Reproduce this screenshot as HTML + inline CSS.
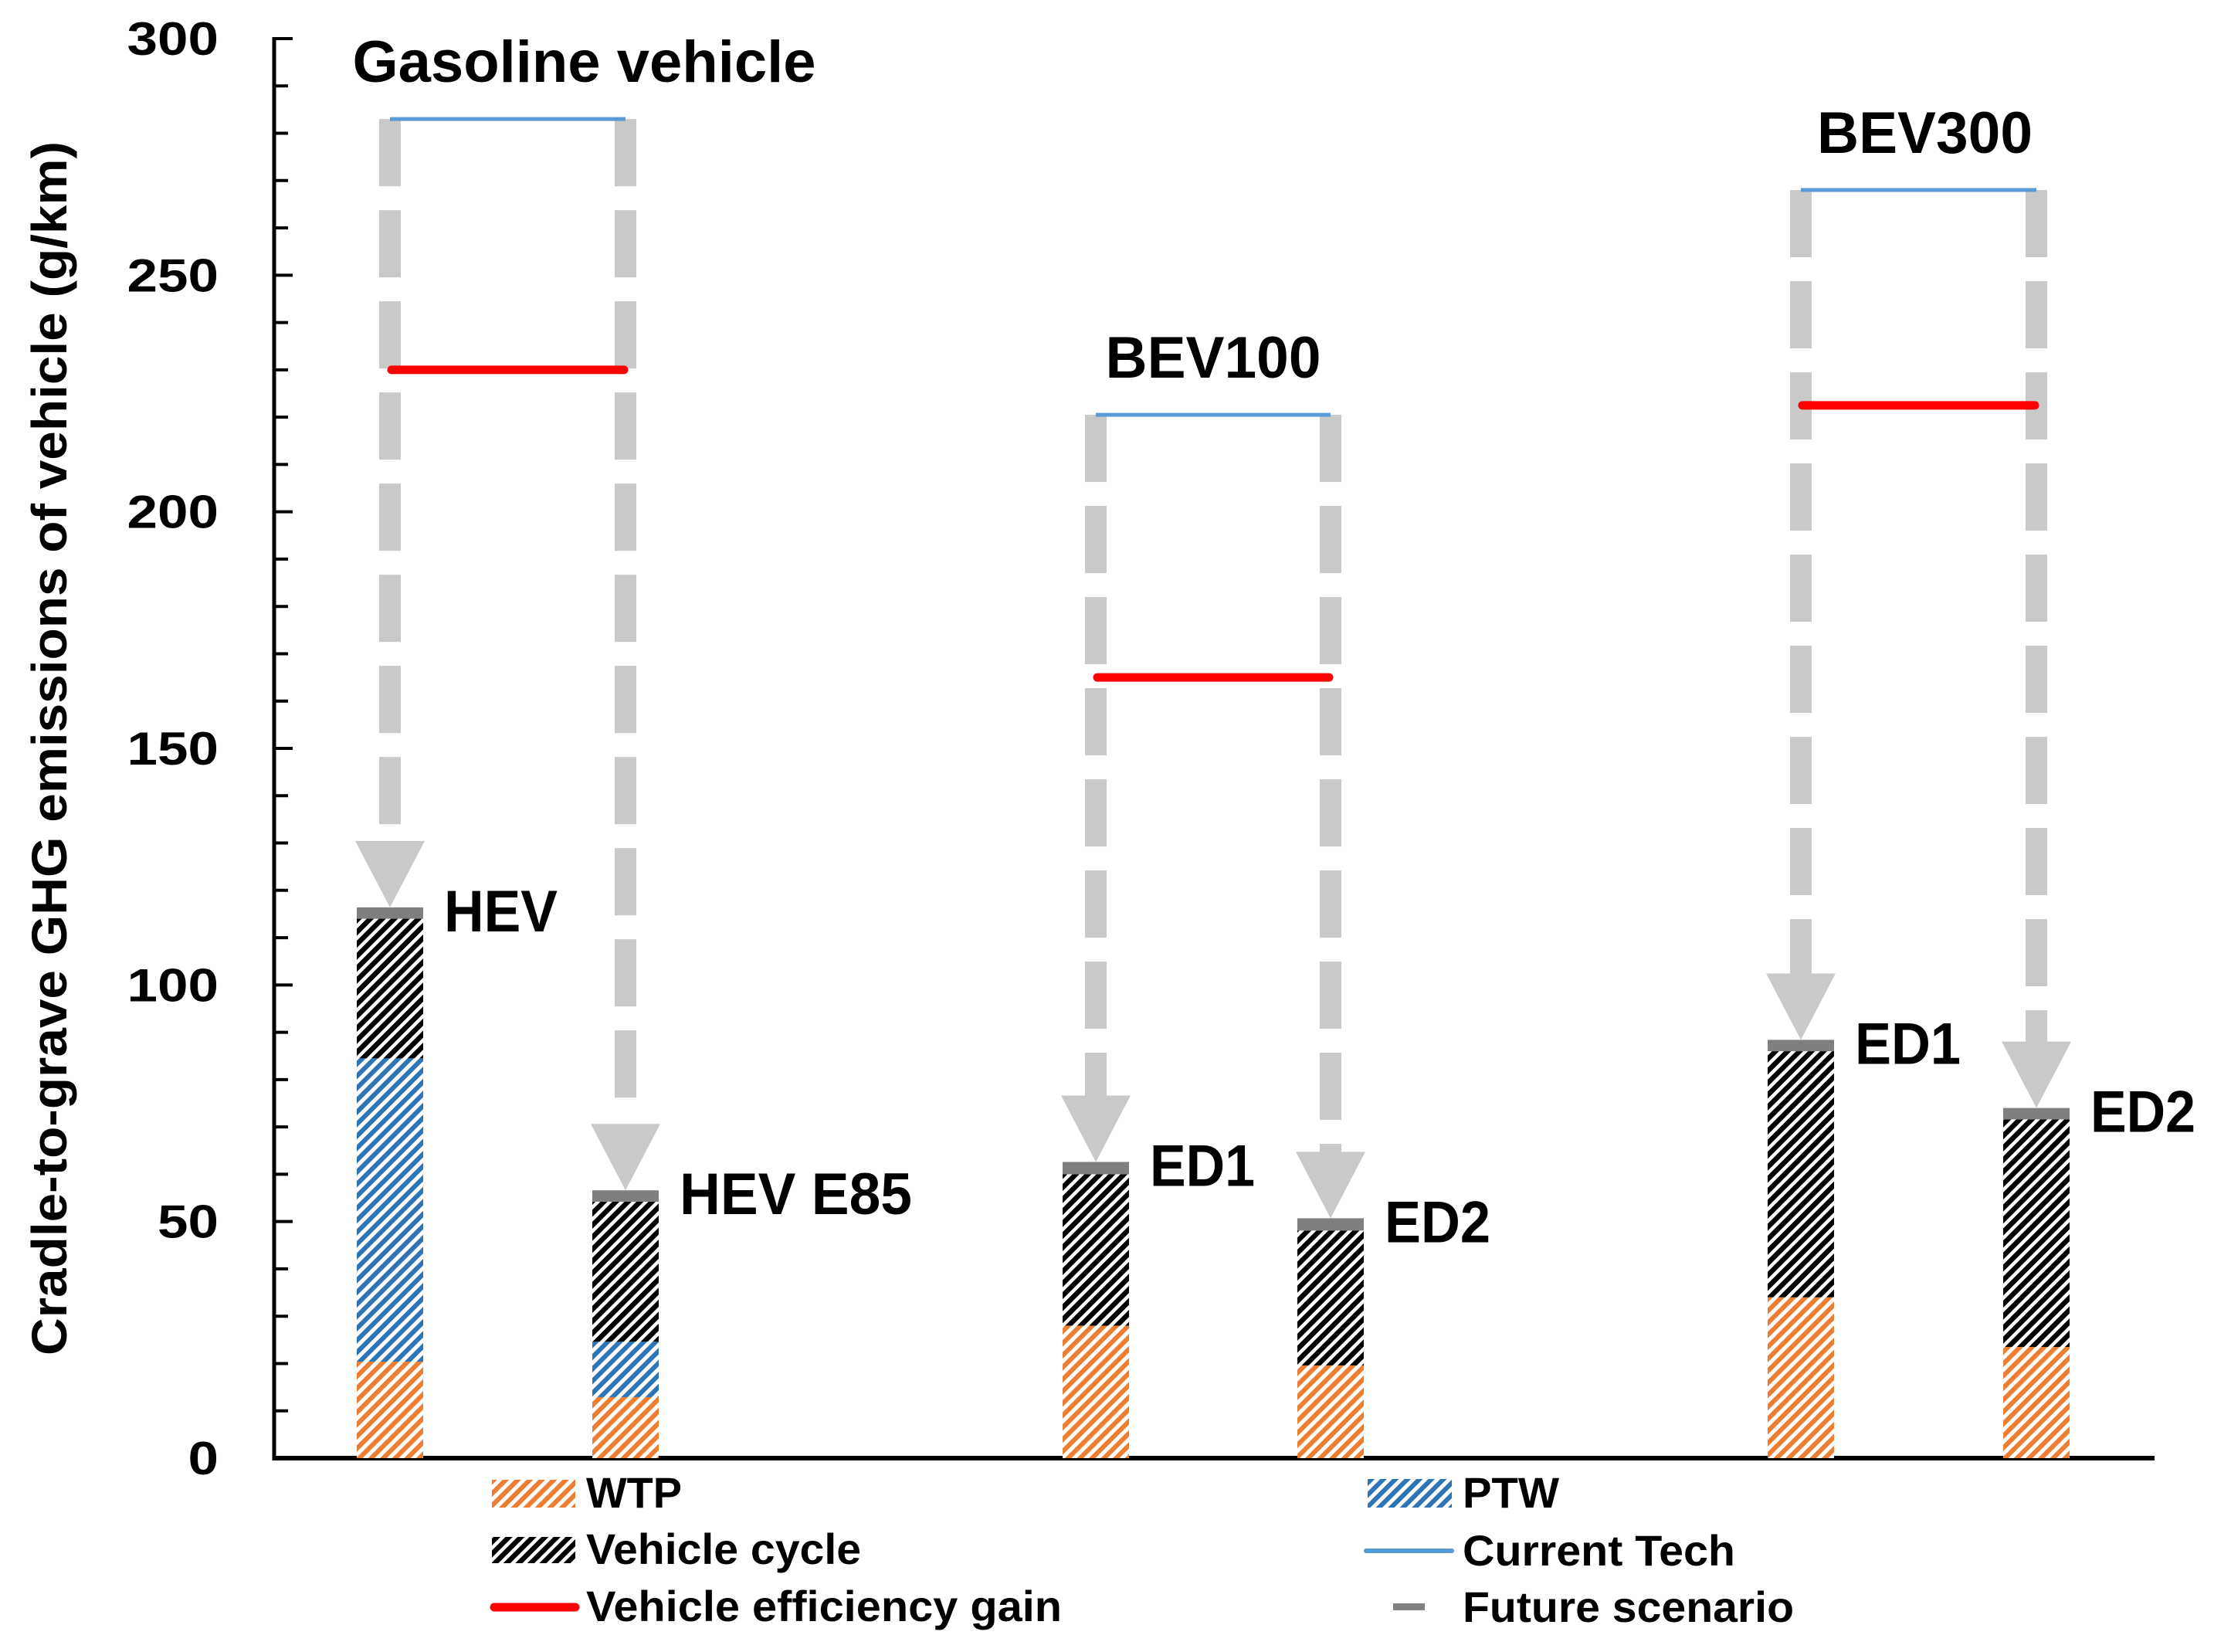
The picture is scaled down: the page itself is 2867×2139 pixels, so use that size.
<!DOCTYPE html>
<html><head><meta charset="utf-8">
<style>
html,body{margin:0;padding:0;background:#fff;}
svg{display:block;}
text{font-family:"Liberation Sans",sans-serif;font-weight:bold;fill:#000;}
</style></head>
<body>
<svg id="chart" width="2867" height="2139" viewBox="0 0 2867 2139" xmlns="http://www.w3.org/2000/svg">
<defs>
<pattern id="hatch-wtp" patternUnits="userSpaceOnUse" width="11" height="11" patternTransform="rotate(45)"><rect width="11" height="11" fill="#fff"/><rect width="6" height="11" fill="#ED7D31"/></pattern>
<pattern id="hatch-ptw" patternUnits="userSpaceOnUse" width="11" height="11" patternTransform="rotate(45)"><rect width="11" height="11" fill="#fff"/><rect width="6" height="11" fill="#2E75B6"/></pattern>
<pattern id="hatch-vc" patternUnits="userSpaceOnUse" width="11" height="11" patternTransform="rotate(45)"><rect width="11" height="11" fill="#fff"/><rect width="6.5" height="11" fill="#000"/></pattern>
</defs>
<g id="plot"></g>
</svg>
<script>
// ---- data ----
const barLabels = ["HEV", "HEV E85", "ED1", "ED2", "ED1", "ED2"];
const wtpValues = [20.4, 12.9, 28.0, 19.6, 34.0, 23.5];
const ptwValues = [64.1, 11.7, 0, 0, 0, 0];
const vehicleCycleValues = [29.5, 29.6, 32.0, 28.5, 52.0, 48.1];
const futureScenarioValues = [2.4, 2.4, 2.6, 2.6, 2.4, 2.4];
const groupNames = ["Gasoline vehicle", "BEV100", "BEV300"];
const currentTechValues = [283, 220.5, 268];
const efficiencyGainValues = [230, 165, 222.5];
const yTicks = [0, 50, 100, 150, 200, 250, 300];

// ---- layout ----
const svg = document.getElementById('chart');
const plot = document.getElementById('plot');
const NS = 'http://www.w3.org/2000/svg';
const Y0 = 1888, Y300 = 50, AX = 355, AXEND = 2790;
const yScale = v => Y0 - (v / 300) * (Y0 - Y300);
const barCenters = [505, 810, 1419, 1723, 2332, 2637];
const xScale = i => barCenters[i];
const BW = 86;
const labelWidths = [147, 301, 136, 137, 137, 136];
const groupTitleWidths = [600, 279, 279];
const groupTitleShift = [99, 0, 8];

function mk(tag, attrs, parent) {
  const e = document.createElementNS(NS, tag);
  for (const k in attrs) e.setAttribute(k, attrs[k]);
  (parent || plot).appendChild(e);
  return e;
}

// axes
let e = mk('line', {x1: AX, y1: Y300 - 2, x2: AX, y2: Y0 + 3, stroke: '#000', 'stroke-width': 5});


e = mk('line', {x1: AX - 2, y1: Y0, x2: AXEND, y2: Y0, stroke: '#000', 'stroke-width': 6});


for (let v = 10; v <= 300; v += 10) {
  const major = v % 50 === 0;
  e = mk('line', {x1: AX, y1: yScale(v), x2: major ? 379 : 373, y2: yScale(v), stroke: '#000', 'stroke-width': 4});
  
  
}
yTicks.forEach(t => {
  e = mk('text', {x: 283, y: yScale(t) + 21, 'text-anchor': 'end', 'font-size': 60});
  e.textContent = String(t);
  e.setAttribute('textLength', String(t).length * 39.5);
  e.setAttribute('lengthAdjust', 'spacingAndGlyphs');
  
  
});
e = mk('text', {x: 0, y: 0, transform: 'translate(86,969) rotate(-90)', 'text-anchor': 'middle', 'font-size': 64, textLength: 1572, lengthAdjust: 'spacingAndGlyphs'});
e.textContent = 'Cradle-to-grave GHG emissions of vehicle (g/km)';



// dashed arrows, group lines
const DASH = 87, PERIOD = 118, CW = 28;
groupNames.forEach((g, gi) => {
  const top = yScale(currentTechValues[gi]);
  [2 * gi, 2 * gi + 1].forEach(bi => {
    const cx = xScale(bi);
    const total = wtpValues[bi] + ptwValues[bi] + vehicleCycleValues[bi] + futureScenarioValues[bi];
    const tip = yScale(total);
    const headTop = tip - 86;
    const shaft = mk('g', {});
    
    
    for (let y = top; y < headTop - 8; y += PERIOD) {
      const h = Math.min(DASH, headTop - y);
      mk('rect', {x: cx - CW / 2, y: y, width: CW, height: h, fill: '#c9c9c9'}, shaft);
    }
    mk('polygon', {points: `${cx - 45},${headTop} ${cx + 45},${headTop} ${cx},${tip}`, fill: '#c9c9c9'}, shaft);
  });
  const x1 = xScale(2 * gi), x2 = xScale(2 * gi + 1);
  e = mk('line', {x1: x1, y1: top, x2: x2, y2: top, stroke: '#5B9BD5', 'stroke-width': 5});
  
  
  const ey = yScale(efficiencyGainValues[gi]);
  e = mk('line', {x1: x1 + 2, y1: ey, x2: x2 - 2, y2: ey, stroke: '#FF0000', 'stroke-width': 11, 'stroke-linecap': 'round'});
  
  
  e = mk('text', {x: (x1 + x2) / 2 + groupTitleShift[gi], y: top - 48, 'text-anchor': 'middle', 'font-size': 76, textLength: groupTitleWidths[gi], lengthAdjust: 'spacingAndGlyphs'});
  e.textContent = g;
  
  
});

// stacked bars
barLabels.forEach((lab, i) => {
  const cx = xScale(i), x = cx - BW / 2;
  let base = 0;
  const segs = [[wtpValues[i], 'url(#hatch-wtp)', 'bar-wtp'], [ptwValues[i], 'url(#hatch-ptw)', 'bar-ptw'], [vehicleCycleValues[i], 'url(#hatch-vc)', 'bar-vehicle-cycle'], [futureScenarioValues[i], '#7f7f7f', 'bar-future-scenario']];
  segs.forEach(s => {
    if (s[0] <= 0) return;
    const y1 = yScale(base + s[0]), y0 = yScale(base);
    e = mk('rect', {x: x, y: y1, width: BW, height: y0 - y1, fill: s[1]});
    
    
    base += s[0];
  });
  e = mk('text', {x: cx + 70, y: yScale(base) + 31, 'font-size': 76, textLength: labelWidths[i], lengthAdjust: 'spacingAndGlyphs'});
  e.textContent = lab;
  
  
});

// legend
const lg = mk('g', {});


function legendText(x, y, w, t) {
  const el = mk('text', {x: x, y: y, 'font-size': 56, textLength: w, lengthAdjust: 'spacingAndGlyphs'}, lg);
  el.textContent = t;
  
  
}
e = mk('rect', {x: 637, y: 1916, width: 108, height: 36, fill: 'url(#hatch-wtp)'}, lg);


legendText(759, 1952, 124, 'WTP');
e = mk('rect', {x: 637, y: 1990, width: 108, height: 34, fill: 'url(#hatch-vc)'}, lg);


legendText(759, 2025, 356, 'Vehicle cycle');
e = mk('line', {x1: 640, y1: 2081, x2: 745, y2: 2081, stroke: '#FF0000', 'stroke-width': 11, 'stroke-linecap': 'round'}, lg);


legendText(759, 2099, 616, 'Vehicle efficiency gain');
e = mk('rect', {x: 1771, y: 1915, width: 109, height: 37, fill: 'url(#hatch-ptw)'}, lg);


legendText(1894, 1952, 125, 'PTW');
e = mk('line', {x1: 1769, y1: 2008, x2: 1880, y2: 2008, stroke: '#5B9BD5', 'stroke-width': 6, 'stroke-linecap': 'round'}, lg);


legendText(1894, 2027, 353, 'Current Tech');
e = mk('rect', {x: 1804, y: 2076, width: 41, height: 9, fill: '#7f7f7f'}, lg);


legendText(1894, 2100, 429, 'Future scenario');
</script>
</body></html>
